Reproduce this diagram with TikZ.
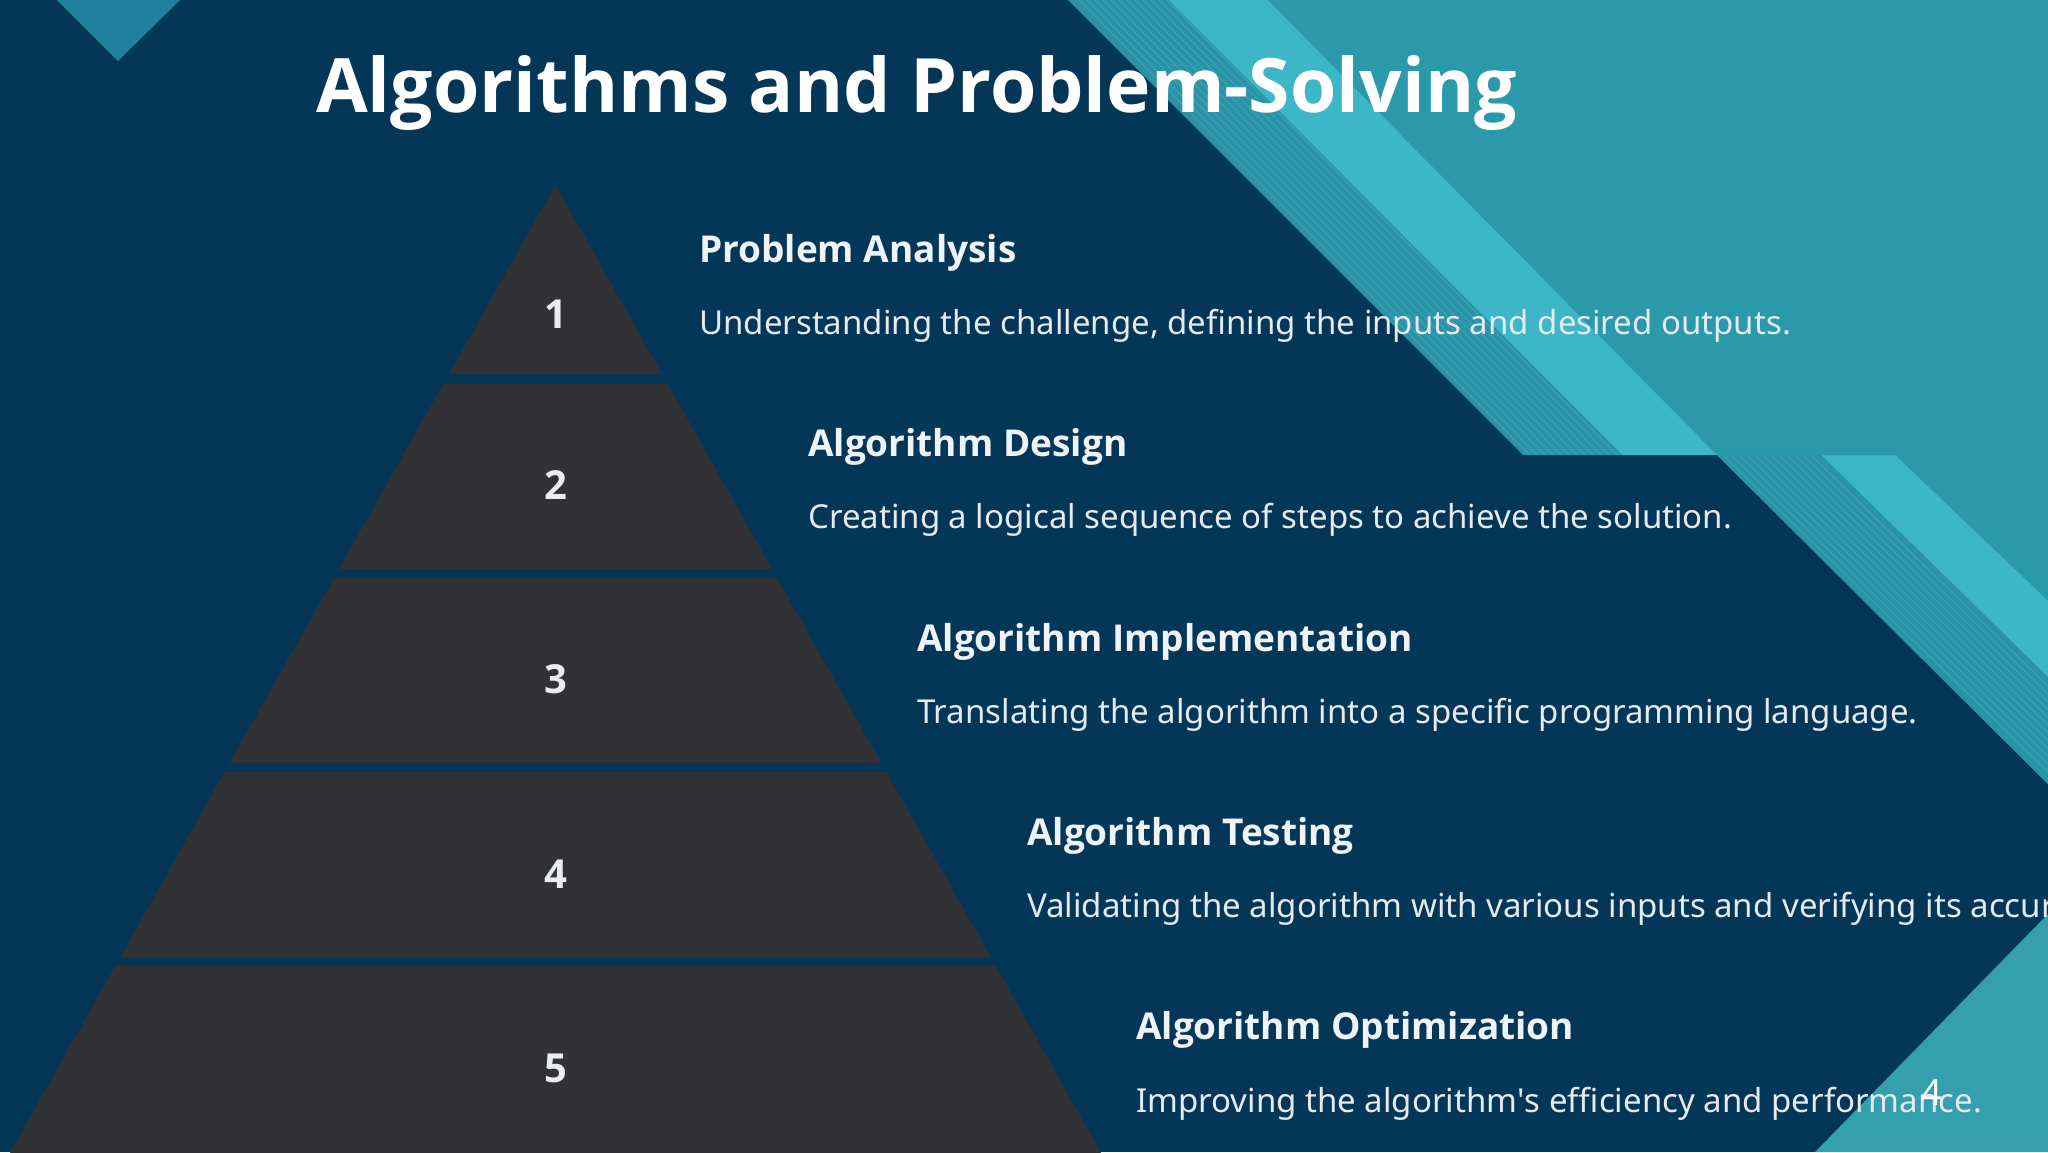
\documentclass[tikz,border=0pt]{standalone}
\usepackage{fontspec}
\setmainfont{Noto Sans}
\newfontfamily\headfont{Open Sans}
\definecolor{navy}{HTML}{043757}
\definecolor{pyrgray}{HTML}{323234}
\definecolor{teal}{HTML}{2A9AAB}
\definecolor{lightband}{HTML}{3DB7C7}
\definecolor{stripebase}{HTML}{2B93A8}
\definecolor{stripeline}{HTML}{4DB8C8}
\definecolor{tlblue}{HTML}{21809F}
\definecolor{brteal}{HTML}{34A0AE}
\definecolor{headc}{HTML}{EEF3F7}
\definecolor{descc}{HTML}{E4EAEF}
\definecolor{numc}{HTML}{EAEDF0}
\begin{document}
\begin{tikzpicture}[x=1bp,y=-1bp,
  titlestyle/.style={anchor=base west, inner sep=0, text=white, font=\fontsize{75bp}{90bp}\selectfont\headfont\bfseries},
  headstyle/.style={anchor=base west, inner sep=0, text=headc, font=\fontsize{37bp}{44bp}\selectfont\headfont\bfseries},
  descstyle/.style={anchor=base west, inner sep=0, text=descc, font=\fontsize{33bp}{40bp}\selectfont},
  numstyle/.style={inner sep=0, text=numc, font=\fontsize{40bp}{48bp}\selectfont\headfont\bfseries},
  pagestyle/.style={inner sep=0, text=white, font=\fontsize{36bp}{42bp}\selectfont},
  pyr/.style={fill=pyrgray}]
\useasboundingbox (0,0) rectangle (2048,1152);
\clip (0,0) rectangle (2048,1152);
\fill[navy] (0,0) rectangle (2048,1152);

% top-left triangle
\fill[tlblue] (57,0) -- (180,0) -- (118,61) -- cycle;

% lower right decoration (below y=455)
\begin{scope}
  \clip (1717,455) -- (2060,455) -- (2060,800) -- (2048,784) -- cycle;
  \fill[teal] (1700,455) rectangle (2060,800);
  \fill[lightband] (1821,455) -- (1895,455) -- (2048,601) -- (2048,677) -- cycle;
  \fill[stripebase] (1717,455) -- (1821,455) -- (2048,677) -- (2048,784) -- cycle;
  \begin{scope}
    \clip (1717,455) -- (1821,455) -- (2048,677) -- (2048,784) -- cycle;
    \foreach \d in {6,14,...,100}{
      \draw[stripeline, line width=0.7bp, opacity=0.6] (1717+\d,455) -- (2117+\d,845);
    }
  \end{scope}
\end{scope}

% upper right decoration (above y=455)
\fill[teal] (1268,0) -- (2048,0) -- (2048,455) -- (1717,455) -- cycle;
\fill[lightband] (1168,0) -- (1268,0) -- (1717,455) -- (1622,455) -- cycle;
\fill[stripebase] (1068,0) -- (1168,0) -- (1622,455) -- (1523,455) -- cycle;
\begin{scope}
  \clip (1068,0) -- (1168,0) -- (1622,455) -- (1523,455) -- cycle;
  \foreach \d in {6,14,...,100}{
    \draw[stripeline, line width=0.7bp, opacity=0.6] (1068+\d,-5) -- (1528+\d,460);
  }
\end{scope}

% bottom-right triangle
\fill[brteal] (2048,914) -- (2048,1152) -- (1815,1152) -- cycle;

% pyramid
\foreach \t/\b/\n/\ny in {185/374/1/314, 384/569/2/485, 578/763/3/679.5, 772/957/4/874, 966/1160/5/1068.5}{
  \pgfmathsetmacro\wt{(\t-185)*0.5636}
  \pgfmathsetmacro\wb{(\b-185)*0.5636}
  \fill[pyr] (555.5-\wt,\t) -- (555.5+\wt,\t) -- (555.5+\wb,\b) -- (555.5-\wb,\b) -- cycle;
  \node[numstyle] (num\n) at (555.5,\ny) {\n};
}

% title
\node[titlestyle] (title) at (316,112.7) {Algorithms and Problem-Solving};

% steps
\node[headstyle] (h1) at (699,262.7) {Problem Analysis};
\node[descstyle] (d1) at (699,334) {Understanding the challenge, defining the inputs and desired outputs.};
\node[headstyle] (h2) at (808,456.9) {Algorithm Design};
\node[descstyle] (d2) at (808,528.5) {Creating a logical sequence of steps to achieve the solution.};
\node[headstyle] (h3) at (917,651) {Algorithm Implementation};
\node[descstyle] (d3) at (917,723) {Translating the algorithm into a specific programming language.};
\node[headstyle] (h4) at (1027,845.2) {Algorithm Testing};
\node[descstyle] (d4) at (1027,917.5) {Validating the algorithm with various inputs and verifying its accuracy.};
\node[headstyle] (h5) at (1136,1039.3) {Algorithm Optimization};
\node[descstyle] (d5) at (1136,1112) {Improving the algorithm\textquotesingle s efficiency and performance.};

% page number
\node[pagestyle] (page) at (1932,1093) {4};
\end{tikzpicture}
\end{document}
